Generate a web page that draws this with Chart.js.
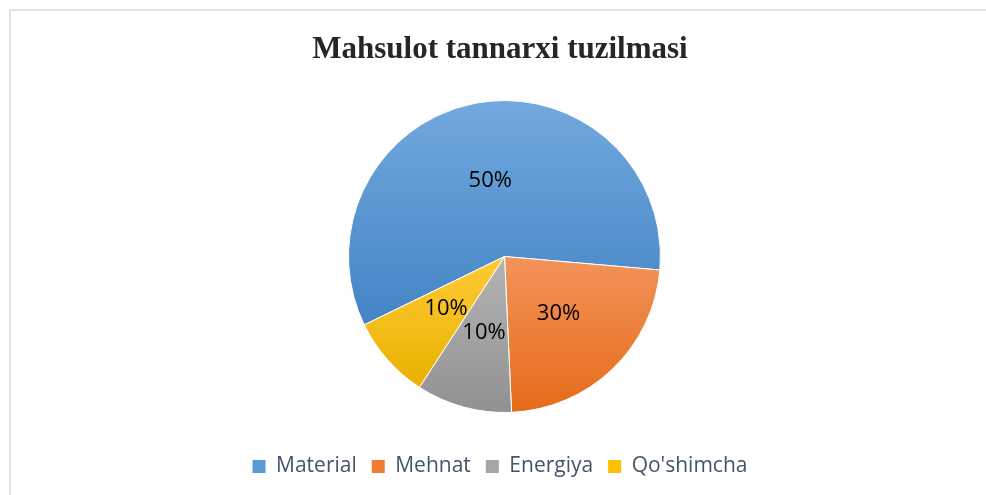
<!DOCTYPE html>
<html>
<head>
<meta charset="utf-8">
<script src="https://cdn.jsdelivr.net/npm/chart.js@4/dist/chart.umd.min.js"></script>
<style>
  html, body { margin: 0; padding: 0; background: #ffffff; }
  #wrap { position: relative; width: 986px; height: 495px; overflow: hidden; }
  #frame { position: absolute; left: 9px; top: 9px; width: 1000px; height: 500px;
           border-top: 2px solid #dfe2e8; border-left: 2px solid #dfe2e8; box-sizing: border-box; }
  canvas { position: absolute; left: 0; top: 0; }
</style>
</head>
<body>
<div id="wrap">
  <div id="frame"></div>
  <canvas id="c" width="986" height="495"></canvas>
</div>
<script>
const titleText = "Mahsulot tannarxi tuzilmasi";
const categories = ["Material", "Mehnat", "Energiya", "Qo'shimcha"];
const values = [58.6, 22.9, 9.9, 8.6];
const valueLabels = ["50%", "30%", "10%", "10%"];
const topColors = ["#72a9de", "#f3935a", "#b4b4b4", "#ffca36"];
const bottomColors = ["#4484c5", "#e56b18", "#919191", "#e9b100"];
const baseColors = ["#5b9bd5", "#ed7d31", "#a5a5a5", "#ffc000"];
const rotationDeg = 244;

const total = values.reduce((a, b) => a + b, 0);

function sliceGradient(ctx) {
  const chart = ctx.chart;
  const i = ctx.dataIndex;
  const area = chart.chartArea;
  if (!area || i === undefined) return baseColors[i] || baseColors[0];
  const cx = (area.left + area.right) / 2;
  const cy = (area.top + area.bottom) / 2;
  const r = Math.min(area.width, area.height) / 2;
  let start = rotationDeg * Math.PI / 180 - Math.PI / 2;
  for (let k = 0; k < i; k++) start += values[k] / total * 2 * Math.PI;
  const end = start + values[i] / total * 2 * Math.PI;
  let minY = cy, maxY = cy;
  for (let s = 0; s <= 80; s++) {
    const a = start + (end - start) * s / 80;
    const y = cy + r * Math.sin(a);
    minY = Math.min(minY, y); maxY = Math.max(maxY, y);
  }
  const g = chart.ctx.createLinearGradient(0, minY, 0, maxY);
  g.addColorStop(0, topColors[i]);
  g.addColorStop(1, bottomColors[i]);
  return g;
}

const placePie = {
  id: 'placePie',
  afterLayout(chart) {
    const a = chart.chartArea;
    a.left = 504.5 - 200; a.right = 504.5 + 200;
    a.top = 100; a.bottom = 413;
    a.width = a.right - a.left; a.height = a.bottom - a.top;
  }
};

const sliceLabels = {
  id: 'sliceLabels',
  afterDatasetsDraw(chart) {
    const meta = chart.getDatasetMeta(0);
    const ctx = chart.ctx;
    ctx.save();
    ctx.font = '22px "Open Sans"';
    ctx.fillStyle = '#000000';
    ctx.textAlign = 'center';
    ctx.textBaseline = 'middle';
    meta.data.forEach((el, i) => {
      const p = el.tooltipPosition();
      ctx.fillText(valueLabels[i], p.x, p.y + 1);
    });
    ctx.restore();
  }
};

new Chart(document.getElementById('c'), {
  type: 'pie',
  data: {
    labels: categories,
    datasets: [{
      data: values,
      backgroundColor: sliceGradient,
      borderColor: '#ffffff',
      borderWidth: 1
    }]
  },
  options: {
    responsive: false,
    animation: false,
    rotation: rotationDeg,
    layout: { padding: { left: 14, right: 0, top: 0, bottom: 8 } },
    plugins: {
      title: {
        display: true,
        text: titleText,
        color: '#262626',
        font: { family: '"Liberation Serif"', size: 31, weight: 'bold' },
        padding: { top: 31, bottom: 0 }
      },
      legend: {
        position: 'bottom',
        labels: {
          color: '#44546a',
          font: { family: '"Open Sans"', size: 21 },
          boxWidth: 13,
          boxHeight: 13,
          padding: 15,
          generateLabels(chart) {
            return categories.map((c, i) => ({
              text: c,
              fillStyle: baseColors[i],
              strokeStyle: baseColors[i],
              lineWidth: 0,
              fontColor: '#44546a',
              index: i
            }));
          }
        }
      },
      tooltip: { enabled: false }
    }
  },
  plugins: [placePie, sliceLabels]
});
</script>
</body>
</html>
